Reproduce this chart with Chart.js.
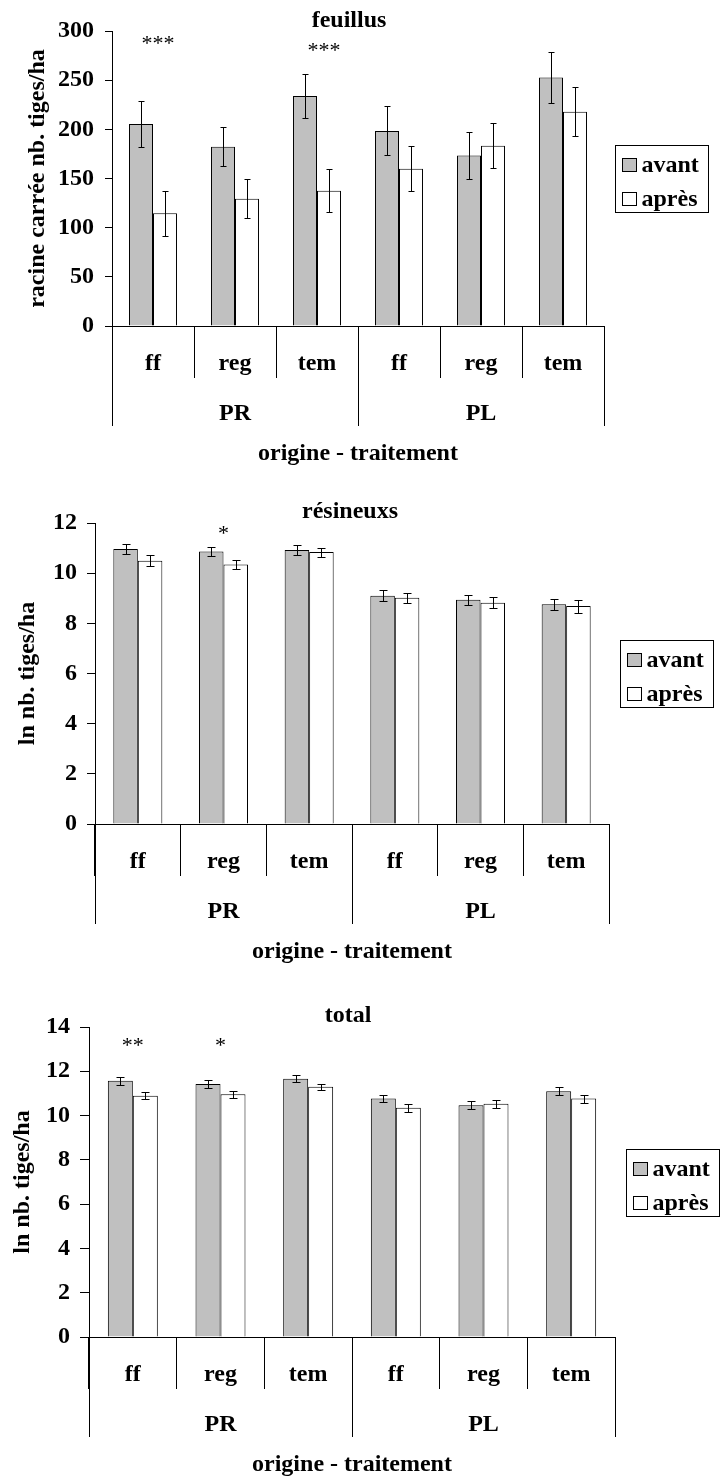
<!DOCTYPE html>
<html lang="fr">
<head>
<meta charset="utf-8">
<title>Densité des tiges avant et après traitement</title>
<script src="https://cdn.jsdelivr.net/npm/chart.js@4.4.1/dist/chart.umd.min.js"></script>
<style>
  html, body { margin: 0; padding: 0; background: #fff; }
  .panel { position: absolute; left: 0; width: 720px; }
  canvas { display: block; }
</style>
</head>
<body>
<div class="panel" style="top:0px"><canvas id="feuillus"></canvas></div>
<div class="panel" style="top:475px"><canvas id="resineux"></canvas></div>
<div class="panel" style="top:975px"><canvas id="total"></canvas></div>
<script>
// ---- data -------------------------------------------------------------
const categories = ['ff', 'reg', 'tem', 'ff', 'reg', 'tem'];   // traitement
const groups = ['PR', 'PL'];                                    // origine
const groupSpans = [3, 3];                                      // categories per origine
const seriesNames = ['avant', 'après'];

// feuillus : racine carrée nb. tiges/ha
const feuillusAvant    = [205.5, 182.4, 234.0, 198.4, 173.3, 252.6];
const feuillusApres    = [114.6, 129.5, 137.6, 160.0, 183.4, 218.0];
const feuillusAvantErr = [23.5, 20.0, 22.0, 25.0, 24.0, 26.0];
const feuillusApresErr = [23.0, 20.0, 22.0, 23.0, 23.0, 25.0];
const feuillusSig      = ['***', '', '***', '', '', ''];
const feuillusTicks    = { max: 300, step: 50 };

// résineux : ln nb. tiges/ha
const resineuxAvant    = [10.96, 10.86, 10.92, 9.10, 8.94, 8.76];
const resineuxApres    = [10.50, 10.35, 10.84, 9.02, 8.82, 8.69];
const resineuxAvantErr = [0.21, 0.19, 0.21, 0.21, 0.20, 0.21];
const resineuxApresErr = [0.21, 0.18, 0.18, 0.20, 0.22, 0.26];
const resineuxSig      = ['', '*', '', '', '', ''];
const resineuxTicks    = { max: 12, step: 2 };

// total : ln nb. tiges/ha
const totalAvant    = [11.57, 11.43, 11.66, 10.77, 10.47, 11.10];
const totalApres    = [10.90, 10.96, 11.30, 10.35, 10.53, 10.77];
const totalAvantErr = [0.17, 0.18, 0.15, 0.16, 0.17, 0.19];
const totalApresErr = [0.17, 0.16, 0.14, 0.17, 0.17, 0.18];
const totalSig      = ['**', '*', '', '', '', ''];
const totalTicks    = { max: 14, step: 2 };

// ---- drawing helpers --------------------------------------------------
const SERIF = '"Liberation Serif", "Times New Roman", serif';
const TXT = 24;   // label size used throughout
const fontSpec = (size, weight) => ({ family: SERIF, size: size, weight: weight || 'bold' });
const cssFont = (size, weight) => (weight || 'bold') + ' ' + size + 'px ' + SERIF;

// Error bars, significance stars, chart title, two-level x axis and boxed legend
const panelDecor = {
  id: 'panelDecor',
  afterDatasetsDraw(chart, args, opts) {
    const ctx = chart.ctx, ys = chart.scales.y;
    ctx.save();
    ctx.strokeStyle = '#000';
    ctx.lineWidth = 1;
    chart.data.datasets.forEach((ds, i) => {
      const meta = chart.getDatasetMeta(i);
      meta.data.forEach((bar, j) => {
        const v = ds.data[j], e = ds.errors[j];
        const px = Math.round(bar.x) + 0.5;
        const top = Math.round(ys.getPixelForValue(v + e)) + 0.5;
        const bot = Math.round(ys.getPixelForValue(v - e)) + 0.5;
        ctx.beginPath();
        ctx.moveTo(px, top); ctx.lineTo(px, bot);
        ctx.moveTo(px - opts.cap, top); ctx.lineTo(px + opts.cap, top);
        ctx.moveTo(px - opts.cap, bot); ctx.lineTo(px + opts.cap, bot);
        ctx.stroke();
      });
    });
    ctx.restore();
  },
  afterDraw(chart, args, opts) {
    const ctx = chart.ctx, xs = chart.scales.x, ys = chart.scales.y, area = chart.chartArea;
    ctx.save();
    ctx.fillStyle = '#000';
    ctx.strokeStyle = '#000';
    ctx.lineWidth = 1;

    // chart title
    ctx.font = cssFont(TXT);
    ctx.textAlign = 'center';
    ctx.textBaseline = 'alphabetic';
    ctx.fillText(opts.title, opts.titleX, opts.titleBaseline);

    // significance stars
    ctx.font = cssFont(22, 'normal');
    opts.sig.forEach((s, j) => {
      if (!s) return;
      const cx = xs.getPixelForValue(j) + (opts.sigShift[j] || 0);
      const cy = ys.getPixelForValue(opts.sigLevel[j]);
      ctx.fillText(s, cx, cy + 12);
    });

    // origine level of the x axis
    const step = xs.getPixelForValue(1) - xs.getPixelForValue(0);
    ctx.font = cssFont(TXT);
    let first = 0;
    groups.forEach((g, gi) => {
      const last = first + groupSpans[gi] - 1;
      const left = xs.getPixelForValue(first) - step / 2;
      const right = xs.getPixelForValue(last) + step / 2;
      ctx.beginPath();
      [left, right].forEach(px => {
        const lx = Math.round(px) + 0.5;
        ctx.moveTo(lx, xs.top); ctx.lineTo(lx, xs.top + opts.groupLine);
      });
      ctx.stroke();
      ctx.fillText(g, (left + right) / 2, xs.top + opts.groupBaseline);
      first = last + 1;
    });

    // legend
    const bw = 93, bh = 67;
    const bx = Math.round(area.right + opts.legendGap) + 0.5;
    const by = Math.round((area.top + area.bottom) / 2 - bh / 2) + 0.5;
    ctx.strokeRect(bx, by, bw, bh);
    ctx.textAlign = 'left';
    chart.data.datasets.forEach((ds, i) => {
      const sx = bx + 7, sy = by + 13 + i * 34;
      ctx.fillStyle = ds.backgroundColor;
      ctx.fillRect(sx, sy, 14, 13);
      ctx.strokeRect(sx, sy, 14, 13);
      ctx.fillStyle = '#000';
      ctx.fillText(ds.label, sx + 19, sy + 13);
    });
    ctx.restore();
  }
};

function makePanel(id, p) {
  const canvas = document.getElementById(id);
  canvas.width = 720;
  canvas.height = p.height;
  canvas.style.width = '720px';
  canvas.style.height = p.height + 'px';
  return new Chart(canvas, {
    type: 'bar',
    data: {
      labels: categories,
      datasets: [
        { label: seriesNames[0], data: p.avant, errors: p.avantErr,
          backgroundColor: '#c0c0c0', borderColor: '#000', borderWidth: 1 },
        { label: seriesNames[1], data: p.apres, errors: p.apresErr,
          backgroundColor: '#ffffff', borderColor: '#000', borderWidth: 1 }
      ]
    },
    options: {
      responsive: false,
      animation: false,
      devicePixelRatio: 1,
      events: [],
      layout: { padding: { left: 0, right: 720 - p.plotRight, top: p.plotTop, bottom: 0 } },
      datasets: { bar: { categoryPercentage: p.catPct, barPercentage: 1 } },
      plugins: {
        legend: { display: false },
        title: { display: false },
        tooltip: { enabled: false },
        panelDecor: {
          title: p.title, titleX: p.titleX, titleBaseline: p.titleBaseline,
          sig: p.sig, sigLevel: p.sigLevel, sigShift: p.sigShift,
          cap: p.cap, groupLine: 100, groupBaseline: 94, legendGap: 11
        }
      },
      scales: {
        x: {
          offset: true,
          grid: { offset: true, drawOnChartArea: false, drawTicks: true,
                  tickLength: 52, color: '#000', lineWidth: 1 },
          border: { display: true, color: '#000', width: 1 },
          ticks: { color: '#000', font: fontSpec(TXT), padding: -29,
                   maxRotation: 0, autoSkip: false },
          title: { display: true, text: 'origine - traitement', color: '#000',
                   font: fontSpec(TXT), padding: { top: 0, bottom: p.xTitlePad } },
          afterFit: s => { s.height = p.height - p.plotBottom; }
        },
        y: {
          min: 0, max: p.ticks.max,
          grid: { drawOnChartArea: false, drawTicks: true, tickLength: p.tickLen,
                  color: '#000', lineWidth: 1 },
          border: { display: true, color: '#000', width: 1 },
          ticks: { stepSize: p.ticks.step, color: '#000', font: fontSpec(TXT),
                   padding: p.tickPad },
          title: { display: true, text: p.yTitle, color: '#000', font: fontSpec(TXT),
                   padding: { top: p.yTitlePad, bottom: 0 } },
          afterFit: s => { s.width = p.plotLeft; }
        }
      }
    },
    plugins: [panelDecor]
  });
}

makePanel('feuillus', {
  height: 475, plotLeft: 112, plotRight: 604, plotTop: 31, plotBottom: 326,
  title: 'feuillus', titleX: 349, titleBaseline: 27,
  yTitle: 'racine carrée nb. tiges/ha', yTitlePad: 23.5, xTitlePad: 6.5,
  avant: feuillusAvant, apres: feuillusApres,
  avantErr: feuillusAvantErr, apresErr: feuillusApresErr,
  sig: feuillusSig, sigLevel: [293, 0, 286, 0, 0, 0], sigShift: [5, 0, 7, 0, 0, 0],
  ticks: feuillusTicks, tickLen: 7, tickPad: 11, catPct: 0.585, cap: 3
});

makePanel('resineux', {
  height: 500, plotLeft: 95, plotRight: 609, plotTop: 48, plotBottom: 349,
  title: 'résineuxs', titleX: 350, titleBaseline: 43,
  yTitle: 'ln nb. tiges/ha', yTitlePad: 13, xTitlePad: 8.5,
  avant: resineuxAvant, apres: resineuxApres,
  avantErr: resineuxAvantErr, apresErr: resineuxApresErr,
  sig: resineuxSig, sigLevel: [0, 11.79, 0, 0, 0, 0], sigShift: [0, 0, 0, 0, 0, 0],
  ticks: resineuxTicks, tickLen: 8, tickPad: 10, catPct: 0.572, cap: 4
});

makePanel('total', {
  height: 504, plotLeft: 89, plotRight: 615, plotTop: 52, plotBottom: 362,
  title: 'total', titleX: 348, titleBaseline: 47,
  yTitle: 'ln nb. tiges/ha', yTitlePad: 8, xTitlePad: 0,
  avant: totalAvant, apres: totalApres,
  avantErr: totalAvantErr, apresErr: totalApresErr,
  sig: totalSig, sigLevel: [13.41, 13.41, 0, 0, 0, 0], sigShift: [0, 0, 0, 0, 0, 0],
  ticks: totalTicks, tickLen: 9, tickPad: 10, catPct: 0.57, cap: 4
});
</script>
</body>
</html>
